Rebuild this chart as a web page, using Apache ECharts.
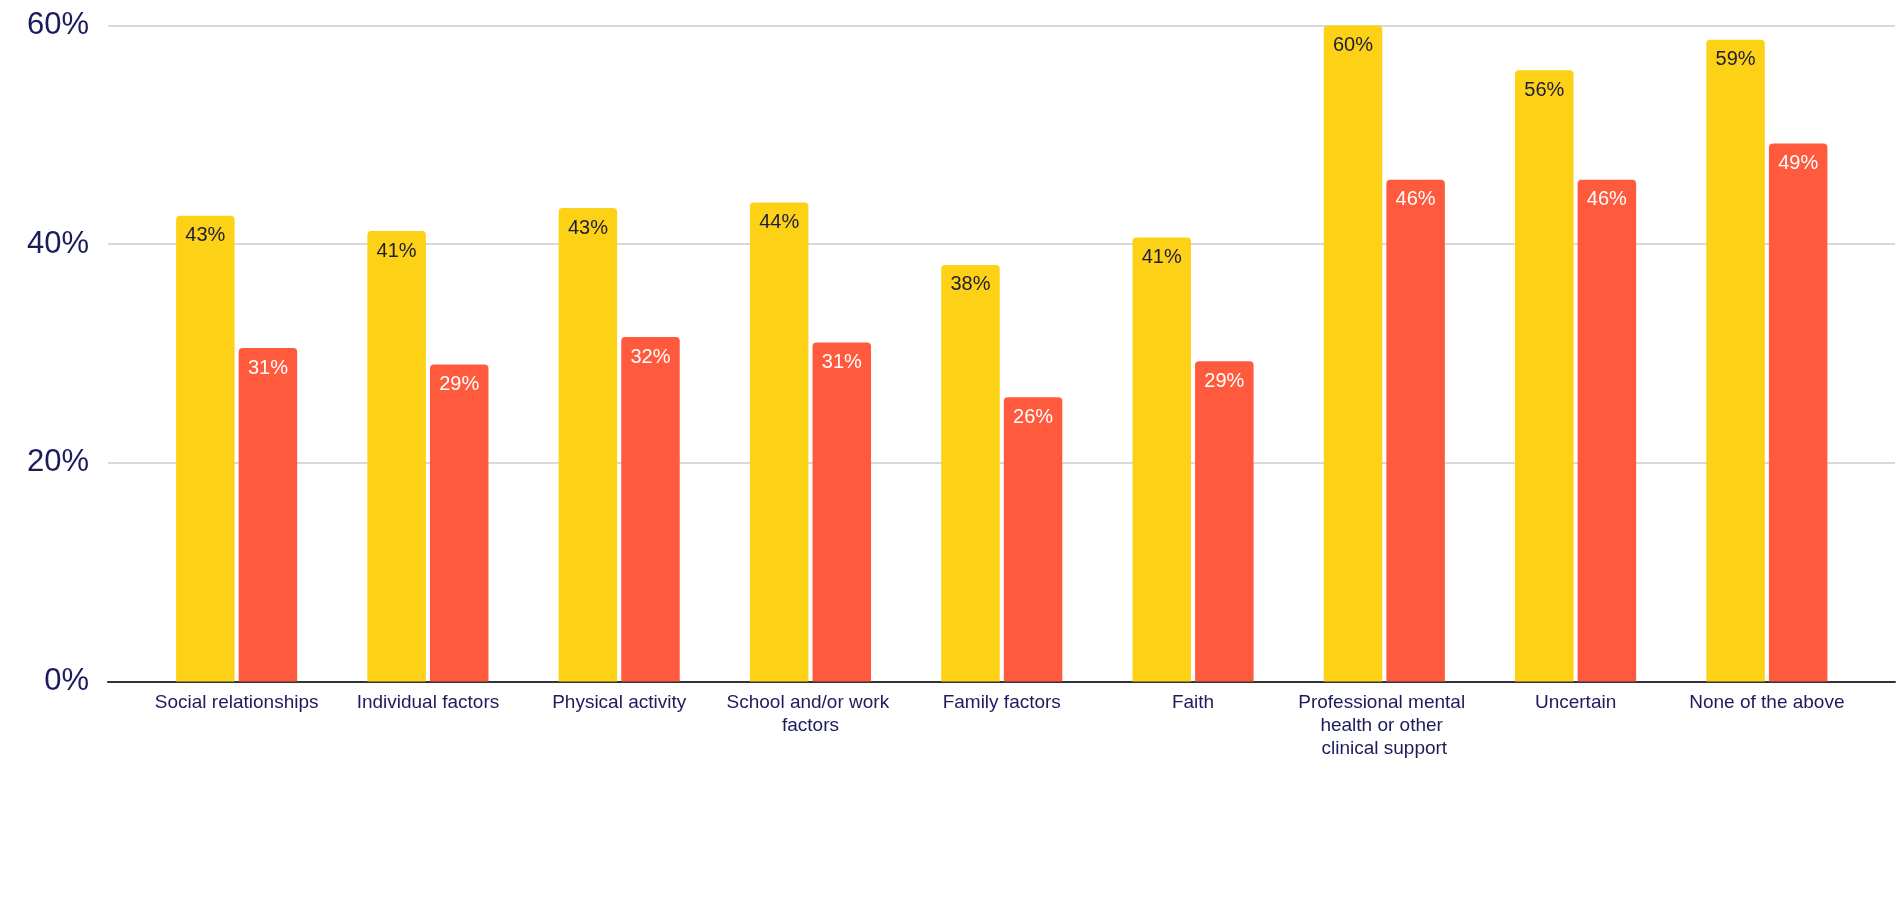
<!DOCTYPE html>
<html>
<head>
<meta charset="utf-8">
<script src="https://cdn.jsdelivr.net/npm/echarts@6/dist/echarts.min.js"></script>
<style>
html,body{margin:0;padding:0;background:#fff;}
#chart{width:1900px;height:914px;}
</style>
</head>
<body>
<div id="chart"></div>
<script>
const categories = ["Social relationships","Individual factors","Physical activity","School and/or work factors","Family factors","Faith","Professional mental health or other clinical support","Uncertain","None of the above"];
const seriesYellow = [42.6, 41.2, 43.3, 43.8, 38.1, 40.6, 60.0, 55.9, 58.7];
const seriesRed = [30.5, 29.0, 31.5, 31.0, 26.0, 29.3, 45.9, 45.9, 49.2];
const yTicks = [0, 20, 40, 60];

const FONT = "Liberation Sans, Arial, sans-serif";
const chart = echarts.init(document.getElementById('chart'));
const option = {
  backgroundColor: '#ffffff',
  animation: false,
  grid: [
    {left: 108, right: 5, top: 25.5, bottom: 232.5},
    {left: 141, right: 37.5, top: 25.5, bottom: 232.5}
  ],
  xAxis: [
    {gridIndex: 0, type: 'value', min: 0, max: 1,
     axisLine: {show: true, onZero: false, lineStyle: {color: '#333333', width: 2}},
     axisTick: {show: false}, axisLabel: {show: false}, splitLine: {show: false}},
    {gridIndex: 1, type: 'category', data: categories,
     axisLine: {show: false}, axisTick: {show: false},
     axisLabel: {color: '#1c1b5c', fontSize: 19, fontFamily: FONT, margin: 10,
       lineHeight: 23, width: 175, overflow: 'break', interval: 0, align: 'center'}}
  ],
  yAxis: [
    {gridIndex: 0, type: 'value', min: yTicks[0], max: yTicks[yTicks.length-1], interval: 20,
     axisLine: {show: false}, axisTick: {show: false},
     axisLabel: {formatter: '{value}%', color: '#1c1b5c', fontSize: 31, fontFamily: FONT, margin: 19,
       padding: [9, 0, 0, 0]},
     splitLine: {lineStyle: {color: '#cccccc', width: 1.5}}},
    {gridIndex: 1, type: 'value', min: 0, max: 60, show: false, splitLine: {show: false}}
  ],
  series: [
    {type: 'bar', name: 'A', xAxisIndex: 1, yAxisIndex: 1, data: seriesYellow,
     barWidth: 58.5, barGap: '7%',
     itemStyle: {color: '#FDD116', borderRadius: [4,4,0,0]},
     label: {show: true, position: 'insideTop', distance: 10, color: '#1e1e3a', fontSize: 20, fontFamily: FONT,
       formatter: p => Math.round(p.value) + '%'}},
    {type: 'bar', name: 'B', xAxisIndex: 1, yAxisIndex: 1, data: seriesRed,
     barWidth: 58.5, barGap: '7%',
     itemStyle: {color: '#FF5A3D', borderRadius: [4,4,0,0]},
     label: {show: true, position: 'insideTop', distance: 10, color: '#ffffff', fontSize: 20, fontFamily: FONT,
       formatter: p => Math.round(p.value) + '%'}}
  ]
};
chart.setOption(option);
</script>
</body>
</html>
